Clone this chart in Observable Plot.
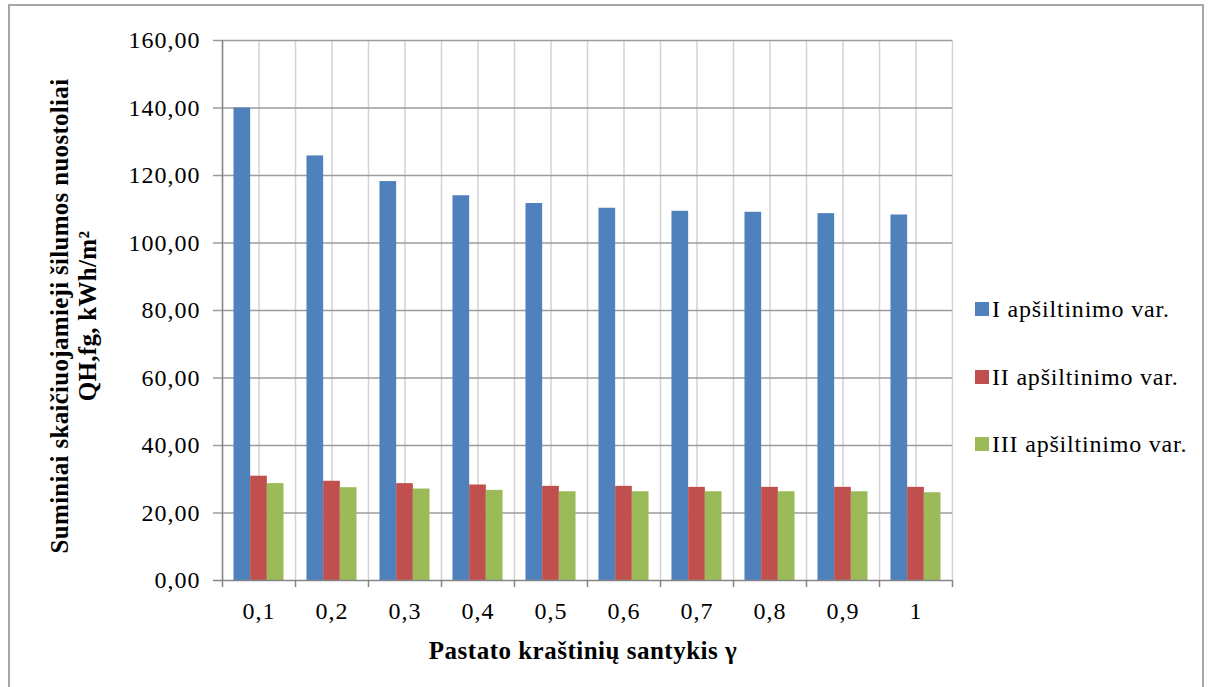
<!DOCTYPE html>
<html>
<head>
<meta charset="utf-8">
<script src="https://cdn.jsdelivr.net/npm/d3@7"></script>
<script src="https://cdn.jsdelivr.net/npm/@observablehq/plot@0.6"></script>
<style>
  html, body { margin: 0; padding: 0; background: #fff; overflow: hidden; }
  #wrap { position: relative; width: 1210px; height: 687px; font-family: "Liberation Serif", "Times New Roman", serif; }
  #border { position: absolute; left: 8px; top: 4px; width: 1196px; height: 720px; border: 2px solid #a6a6a6; box-sizing: border-box; }
  #chart { position: absolute; left: 0; top: 0; }
  .ytitle { position: absolute; left: 74px; top: 316px; width: 600px; transform: translate(-50%, -50%) rotate(-90deg);
            text-align: center; font-weight: bold; font-size: 25px; line-height: 28px; letter-spacing: 0.3px; color: #000; white-space: nowrap; }
  .xtitle { position: absolute; left: 583px; top: 651px; transform: translate(-50%, -50%);
            font-weight: bold; font-size: 25px; letter-spacing: 0.5px; color: #000; white-space: nowrap; }
  .legend { position: absolute; left: 975px; top: 0; }
  .legend .row { position: absolute; left: 0; height: 30px; display: flex; align-items: center; white-space: nowrap;
                 font-size: 24px; letter-spacing: 0.8px; color: #000; transform: translateY(-50%); }
  .legend .sw { width: 14px; height: 14px; margin-right: 3px; }
</style>
</head>
<body>
<div id="wrap">
  <div id="border"></div>
  <div id="chart"></div>
  <div class="ytitle">Suminiai skaičiuojamieji šilumos nuostoliai<br>QH,fg, kWh/m²</div>
  <div class="xtitle">Pastato kraštinių santykis γ</div>
  <div class="legend" id="legend"></div>
</div>
<script>
// Building side ratio γ (category axis)
const ratios = ["0,1", "0,2", "0,3", "0,4", "0,5", "0,6", "0,7", "0,8", "0,9", "1"];

// Total calculated heat losses, kWh/m², per insulation variant
const variantI   = [140.0, 125.8, 118.2, 114.0, 111.7, 110.3, 109.4, 109.1, 108.7, 108.3];
const variantII  = [30.9, 29.4, 28.7, 28.3, 27.9, 27.9, 27.6, 27.6, 27.6, 27.6];
const variantIII = [28.7, 27.5, 27.1, 26.7, 26.3, 26.3, 26.3, 26.3, 26.3, 26.0];

const seriesNames = ["I apšiltinimo var.", "II apšiltinimo var.", "III apšiltinimo var."];
const seriesColors = ["#4F81BD", "#C0504D", "#9BBB59"];

// Value axis ticks
const yTicks = [0, 20, 40, 60, 80, 100, 120, 140, 160];

// Layout
const W = 1210, H = 640;
const mL = 222, mR = 258, mT = 40, mB = 60;
const band = (W - mL - mR) / ratios.length;
const barW = band / 4.375;
const gap = (band - 3 * barW) / 2;

const rows = (vals) => ratios.map((r, i) => ({ratio: r, value: vals[i]}));
const last = [ratios[ratios.length - 1]];

const gridLight = "#d3d3d3";
const gridDark = "#9c9c9c";
const axisGray = "#868686";

const chart = Plot.plot({
  width: W,
  height: H,
  marginLeft: mL,
  marginRight: mR,
  marginTop: mT,
  marginBottom: mB,
  style: {fontFamily: "'Liberation Serif', 'Times New Roman', serif", fontSize: "24px", color: "#000", background: "transparent", letterSpacing: "1px"},
  x: {domain: ratios, padding: 0, tickSize: 0, tickPadding: 21, label: null},
  y: {domain: [0, 160], ticks: yTicks, tickSize: 0, tickPadding: 22, label: null,
      tickFormat: d => d.toFixed(2).replace(".", ",")},
  marks: [
    // vertical grid: category centres and boundaries
    Plot.ruleX(ratios, {stroke: gridLight, strokeWidth: 1.5}),
    Plot.ruleX(ratios, {stroke: gridLight, strokeWidth: 1.5, dx: -band / 2}),
    Plot.ruleX(last, {stroke: gridLight, strokeWidth: 1.5, dx: band / 2}),
    // horizontal grid, extended left as tick marks
    Plot.ruleY(yTicks.slice(1), {stroke: gridDark, strokeWidth: 1.5, insetLeft: -9}),
    // category tick marks below the axis
    Plot.ruleX(ratios, {y1: 0, y2: 0, insetBottom: -7, dx: -band / 2, stroke: axisGray, strokeWidth: 1.5}),
    Plot.ruleX(last, {y1: 0, y2: 0, insetBottom: -7, dx: band / 2, stroke: axisGray, strokeWidth: 1.5}),
    // bars
    Plot.barY(rows(variantI), {x: "ratio", y: "value", fill: seriesColors[0], insetLeft: gap, insetRight: gap + 2 * barW}),
    Plot.barY(rows(variantII), {x: "ratio", y: "value", fill: seriesColors[1], insetLeft: gap + barW, insetRight: gap + barW}),
    Plot.barY(rows(variantIII), {x: "ratio", y: "value", fill: seriesColors[2], insetLeft: gap + 2 * barW, insetRight: gap}),
    // axis lines
    Plot.ruleX([ratios[0]], {dx: -band / 2, stroke: axisGray, strokeWidth: 1.5}),
    Plot.ruleY([0], {stroke: axisGray, strokeWidth: 1.5, insetLeft: -9})
  ]
});
document.getElementById("chart").appendChild(chart);

// Legend rows
const legendY = [309, 377, 444];
const legend = document.getElementById("legend");
seriesNames.forEach((name, i) => {
  const row = document.createElement("div");
  row.className = "row";
  row.style.top = legendY[i] + "px";
  row.innerHTML = `<span class="sw" style="background:${seriesColors[i]}"></span><span>${name}</span>`;
  legend.appendChild(row);
});
</script>
</body>
</html>
